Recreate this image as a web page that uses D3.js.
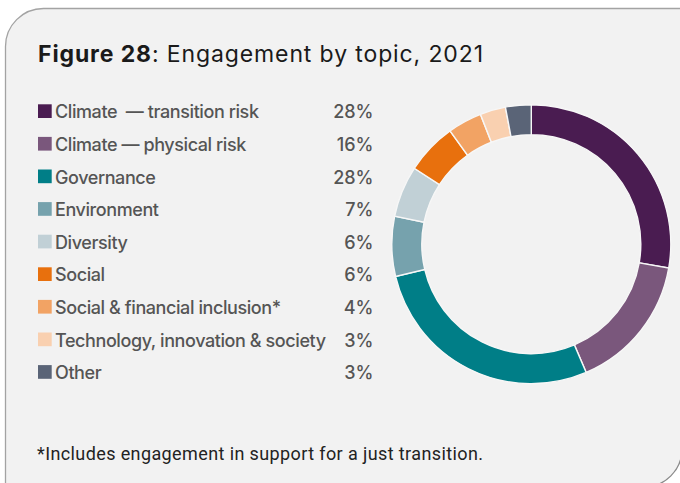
<!DOCTYPE html>
<html>
<head>
<meta charset="utf-8">
<script src="https://cdn.jsdelivr.net/npm/d3@7"></script>
<style>
  html, body { margin: 0; padding: 0; background: #ffffff; }
  svg { display: block; }
</style>
</head>
<body>
<svg id="chart" width="680" height="483"></svg>
<script>
// Engagement by topic, 2021 — share of engagements per topic
const topics = [
  "Climate  \u2014 transition risk",
  "Climate \u2014 physical risk",
  "Governance",
  "Environment",
  "Diversity",
  "Social",
  "Social & financial inclusion*",
  "Technology, innovation & society",
  "Other"
];
const shares = [28, 16, 28, 7, 6, 6, 4, 3, 3];
const topicColors = [
  "#4a1c51", "#7a577c", "#007e87", "#76a2ad", "#c1d0d6",
  "#e8700d", "#f2a364", "#f9d0b0", "#5a6477"
];
const titleBold = "Figure 28";
const titleRest = ": Engagement by topic, 2021";
const footnote = "*Includes engagement in support for a just transition.";

const W = 680, H = 483;
const svg = d3.select("#chart");

// Panel with rounded top-left and bottom-right corners
const px = 5.5, py = 8.5, pr = 682, pb = 487, rc = 38;
const panel = d3.path();
panel.moveTo(px, pb + 20);
panel.lineTo(px, py + rc);
panel.arcTo(px, py, px + rc, py, rc);
panel.lineTo(pr + 20, py);
panel.lineTo(pr + 20, pb + 20);
panel.closePath();
svg.append("path").attr("d", panel.toString()).attr("fill", "#f2f2f2");

// white outside the rounded bottom-right corner
const outside = d3.path();
outside.moveTo(pr, pb - rc);
outside.arcTo(pr, pb, pr - rc, pb, rc);
outside.lineTo(pr + 10, pb + 10);
outside.closePath();
svg.append("path").attr("d", outside.toString()).attr("fill", "#ffffff");

const border = d3.path();
border.moveTo(px, pb + 20);
border.lineTo(px, py + rc);
border.arcTo(px, py, px + rc, py, rc);
border.lineTo(pr + 20, py);
svg.append("path").attr("d", border.toString())
  .attr("fill", "none").attr("stroke", "#a3a3a3").attr("stroke-width", 1.3);

const corner = d3.path();
corner.moveTo(pr, pb - rc - 40);
corner.lineTo(pr, pb - rc);
corner.arcTo(pr, pb, pr - rc, pb, rc);
corner.lineTo(pr - rc - 40, pb);
svg.append("path").attr("d", corner.toString())
  .attr("fill", "none").attr("stroke", "#8a8a8a").attr("stroke-width", 1.3);

// Spread text to a given width via letter-spacing
function fitWidth(sel, target) {
  const node = sel.node();
  const w = node.getComputedTextLength();
  const n = node.textContent.length;
  const ls = (target - w) / Math.max(1, n - 1);
  sel.attr("letter-spacing", ls.toFixed(3));
  return ls;
}

// Title
const title = svg.append("text")
  .attr("x", 38).attr("y", 62)
  .attr("font-family", "Inter, Roboto, sans-serif")
  .attr("font-size", 23)
  .attr("fill", "#1a1a1a");
title.append("tspan").attr("font-weight", 700).text(titleBold);
title.append("tspan").attr("font-weight", 400).text(titleRest);
fitWidth(title, 445);

// Legend
const rowY = d3.scalePoint().domain(d3.range(topics.length))
  .range([118.3, 118.3 + 32.6 * (topics.length - 1)]);
const legend = svg.append("g")
  .attr("font-family", "Inter, Roboto, sans-serif")
  .attr("font-size", 18)
  .attr("fill", "#555555");

const rows = legend.selectAll("g.row").data(topics).join("g")
  .attr("class", "row")
  .attr("transform", (d, i) => `translate(0,${rowY(i)})`);

rows.append("rect")
  .attr("x", 38).attr("y", -14).attr("width", 13.7).attr("height", 13.7)
  .attr("fill", (d, i) => topicColors[i]);

const labels = rows.append("text")
  .attr("x", 55).attr("y", 0)
  .attr("font-weight", 500)
  .style("white-space", "pre")
  .attr("xml:space", "preserve")
  .text(d => d);

// shared spacing so the longest label spans its width
const longest = labels.filter((d, i) => i === 7);
const ls = fitWidth(longest, 271);
labels.attr("letter-spacing", ls.toFixed(3));

rows.append("text")
  .attr("x", 373.5).attr("y", 0)
  .attr("text-anchor", "end")
  .attr("font-weight", 500)
  .text((d, i) => shares[i] + "%");

// Donut
const cx = 531.3, cy = 244.2, rOuter = 139.5, rInner = 109.5;
const pie = d3.pie().sort(null).value(d => d);
const arc = d3.arc().innerRadius(rInner).outerRadius(rOuter);
svg.append("g")
  .attr("transform", `translate(${cx},${cy})`)
  .selectAll("path")
  .data(pie(shares))
  .join("path")
  .attr("d", arc)
  .attr("fill", (d, i) => topicColors[i])
  .attr("stroke", "#f7f7f7")
  .attr("stroke-width", 1.4);

// Footnote
const note = svg.append("text")
  .attr("x", 37).attr("y", 460)
  .attr("font-family", "Roboto, 'Noto Sans', sans-serif")
  .attr("font-size", 18)
  .attr("font-weight", 400)
  .attr("fill", "#222222")
  .text(footnote);
fitWidth(note, 446);
</script>
</body>
</html>
